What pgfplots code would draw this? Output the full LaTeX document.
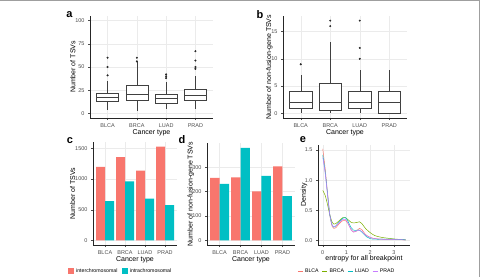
\documentclass[border=0pt]{standalone}
\usepackage{fontspec}
\setmainfont{Liberation Sans}
\usepackage{pgfplots}
\pgfplotsset{compat=1.18}
\usepgfplotslibrary{statistics}
\definecolor{cA}{HTML}{F8766D}
\definecolor{cB}{HTML}{7CAE00}
\definecolor{cC}{HTML}{00BFC4}
\definecolor{cD}{HTML}{C77CFF}
\definecolor{gridc}{HTML}{EBEBEB}
\definecolor{tickc}{HTML}{4D4D4D}
\pgfplotsset{
 gg/.style={
  scale only axis,
  separate axis lines,
  axis x line=bottom, axis y line=left,
  axis line style={-},
  every outer x axis line/.append style={-, black!85, line width=0.5pt},
  every outer y axis line/.append style={-, black!85, line width=0.5pt},
  grid=major,
  grid style={gridc, line width=0.4pt},
  tick align=outside,
  major tick length=2pt,
  tick style={black!70, line width=0.4pt},
  ticklabel style={font=\fontsize{5.5}{6}\selectfont, text=tickc},
  label style={font=\fontsize{7}{8}\selectfont},
  /pgf/number format/assume math mode=true,
  /pgf/number format/1000 sep={},
  xlabel style={at={(axis description cs:0.5,-0.14)}, anchor=center},
 },
 yl/.style={ylabel style={at={(axis description cs:#1,0.5)}, anchor=center}},
 cat/.style={xmin=0.4, xmax=4.6, xtick={1,2,3,4}, xticklabels={BLCA,BRCA,LUAD,PRAD}, xlabel={Cancer type}},
 bx/.style={draw=black!75, fill=white, line width=0.4pt, mark=*, mark size=0.8pt,
   mark options={fill=black!85, draw=black!85},
   boxplot/draw direction=y,
   boxplot/box extend=0.75, boxplot/whisker extend=0,
   boxplot/every median/.style={line width=0.9pt}},
}
\begin{document}
\begin{tikzpicture}[x=1pt,y=1pt]
\useasboundingbox (0,0) rectangle (481,277);
\draw[gray!75, line width=1.5pt] (0,276.4) -- (479.3,276.4) -- (479.3,0);

% ---- panel a
\begin{axis}[gg, cat, yl=-0.14, at={(90pt,159pt)}, anchor=south west, width=123pt, height=102pt,
  ymin=-5, ymax=105, ytick={0,25,50,75,100}, ylabel={Number of TSVs}]
\addplot[bx, boxplot prepared={draw position=1, lower whisker=4, lower quartile=12.8, median=17, upper quartile=21.7, upper whisker=35}] table[row sep=\\, y index=0]{y\\60\\50\\41\\};
\addplot[bx, boxplot prepared={draw position=2, lower whisker=3, lower quartile=13.9, median=20, upper quartile=30.2, upper whisker=55}] table[row sep=\\, y index=0]{y\\60\\56\\};
\addplot[bx, boxplot prepared={draw position=3, lower whisker=5, lower quartile=10.7, median=16, upper quartile=20.6, upper whisker=33.4}] table[row sep=\\, y index=0]{y\\42\\40\\38\\};
\addplot[bx, boxplot prepared={draw position=4, lower whisker=5, lower quartile=13.9, median=19, upper quartile=25.6, upper whisker=40}] table[row sep=\\, y index=0]{y\\67\\57\\50\\48\\};
\end{axis}

% ---- panel b
\begin{axis}[gg, cat, yl=-0.11, at={(283pt,159pt)}, anchor=south west, width=124pt, height=102pt,
  ymin=-0.85, ymax=17.85, ytick={0,5,10,15}, ylabel={Number of non-fusion-gene TSVs}]
\addplot[bx, boxplot prepared={draw position=1, lower whisker=0, lower quartile=1, median=2, upper quartile=4, upper whisker=7}] table[row sep=\\, y index=0]{y\\9\\};
\addplot[bx, boxplot prepared={draw position=2, lower whisker=0, lower quartile=0.5, median=2, upper quartile=5.5, upper whisker=13}] table[row sep=\\, y index=0]{y\\17\\16\\};
\addplot[bx, boxplot prepared={draw position=3, lower whisker=0, lower quartile=1, median=2, upper quartile=4, upper whisker=8}] table[row sep=\\, y index=0]{y\\17\\12\\10\\};
\addplot[bx, boxplot prepared={draw position=4, lower whisker=0, lower quartile=0, median=2, upper quartile=4, upper whisker=8}] coordinates {};
\end{axis}

% ---- panel c
\begin{axis}[gg, cat, yl=-0.242, at={(93pt,32pt)}, anchor=south west, width=84pt, height=103pt,
  ymin=-76.5, ymax=1606, ytick={0,500,1000,1500}, ylabel={Number of TSVs},
  legend columns=2,
  legend style={draw=none, fill=none, at={(0.33,-0.26)}, anchor=center,
    font=\fontsize{5.2}{6}\selectfont, inner sep=0pt,
    /tikz/every even column/.append style={column sep=2.5pt}},
  legend image code/.code={\fill[#1] (0pt,-2.5pt) rectangle (6pt,3.5pt);}]
\addplot[ybar, bar width=0.45, bar shift=-0.225, fill=cA, draw=none] coordinates {(1,1200) (2,1360) (3,1140) (4,1530)};
\addplot[ybar, bar width=0.45, bar shift=0.225, fill=cC, draw=none] coordinates {(1,640) (2,962) (3,683) (4,575)};
\legend{interchromosomal, intrachromosomal}
\end{axis}

% ---- panel d
\begin{axis}[gg, cat, yl=-0.185, at={(207pt,32pt)}, anchor=south west, width=88pt, height=102pt,
  ymin=-19, ymax=400, ytick={0,100,200,300}, ylabel={Number of non-fusion-gene TSVs}]
\addplot[ybar, bar width=0.45, bar shift=-0.225, fill=cA, draw=none] coordinates {(1,257) (2,259) (3,201) (4,304)};
\addplot[ybar, bar width=0.45, bar shift=0.225, fill=cC, draw=none] coordinates {(1,232) (2,380) (3,265) (4,182)};
\end{axis}

% ---- panel e
\begin{axis}[gg, yl=-0.152, at={(318pt,32pt)}, anchor=south west, width=92pt, height=100pt,
  xmin=-0.2, xmax=3.68, ymin=-0.076, ymax=1.585, xtick={0,1,2,3}, ytick={0,0.5,1,1.5},
  yticklabel style={/pgf/number format/.cd, fixed, fixed zerofill, precision=1},
  xlabel={entropy for all breakpoint}, ylabel={Density},
  legend columns=4,
  legend style={draw=none, fill=none, at={(0.315,-0.26)}, anchor=center,
    font=\fontsize{5.2}{6}\selectfont, inner sep=0pt,
    /tikz/every even column/.append style={column sep=1.5pt}},
  legend image code/.code={\draw[#1] (0pt,0pt) -- (5pt,0pt);}]
\addplot[cA, line width=0.5pt, smooth] coordinates {(0,1.52) (0.1,1.2) (0.2,0.8) (0.3,0.42) (0.4,0.23) (0.47,0.2) (0.55,0.21) (0.7,0.28) (0.85,0.33) (0.95,0.33) (1.05,0.29) (1.2,0.18) (1.3,0.14) (1.4,0.15) (1.55,0.2) (1.65,0.18) (1.8,0.1) (2.0,0.05) (2.2,0.03) (2.5,0.02) (3.0,0.015) (3.5,0.01)};
\addplot[cB, line width=0.5pt, smooth] coordinates {(0,0.83) (0.1,0.75) (0.2,0.6) (0.3,0.42) (0.4,0.3) (0.47,0.27) (0.55,0.28) (0.7,0.33) (0.85,0.38) (0.95,0.38) (1.05,0.35) (1.2,0.3) (1.3,0.29) (1.45,0.3) (1.55,0.31) (1.65,0.28) (1.8,0.2) (2.0,0.13) (2.2,0.08) (2.5,0.05) (3.0,0.025) (3.5,0.01)};
\addplot[cC, line width=0.5pt, smooth] coordinates {(0,1.42) (0.1,1.15) (0.2,0.78) (0.3,0.42) (0.4,0.25) (0.47,0.22) (0.55,0.24) (0.7,0.31) (0.85,0.37) (0.95,0.38) (1.05,0.33) (1.2,0.21) (1.3,0.17) (1.45,0.17) (1.55,0.17) (1.7,0.12) (1.85,0.06) (2.0,0.03) (2.2,0.02) (2.5,0.02) (3.0,0.02) (3.5,0.01)};
\addplot[cD, line width=0.5pt, smooth] coordinates {(0,1.38) (0.1,1.12) (0.2,0.76) (0.3,0.42) (0.4,0.25) (0.47,0.23) (0.55,0.24) (0.7,0.3) (0.85,0.35) (0.95,0.35) (1.05,0.3) (1.2,0.17) (1.3,0.14) (1.45,0.16) (1.55,0.17) (1.65,0.15) (1.8,0.09) (2.0,0.05) (2.2,0.03) (2.5,0.02) (3.0,0.015) (3.5,0.01)};
\legend{BLCA, BRCA, LUAD, PRAD}
\end{axis}

% ---- panel letters
\node[font=\fontsize{11}{12}\selectfont\bfseries] at (69.5,262) {a};
\node[font=\fontsize{11}{12}\selectfont\bfseries] at (260,262) {b};
\node[font=\fontsize{11}{12}\selectfont\bfseries] at (70,136) {c};
\node[font=\fontsize{11}{12}\selectfont\bfseries] at (182,137) {d};
\node[font=\fontsize{11}{12}\selectfont\bfseries] at (303,137) {e};
\end{tikzpicture}
\end{document}
